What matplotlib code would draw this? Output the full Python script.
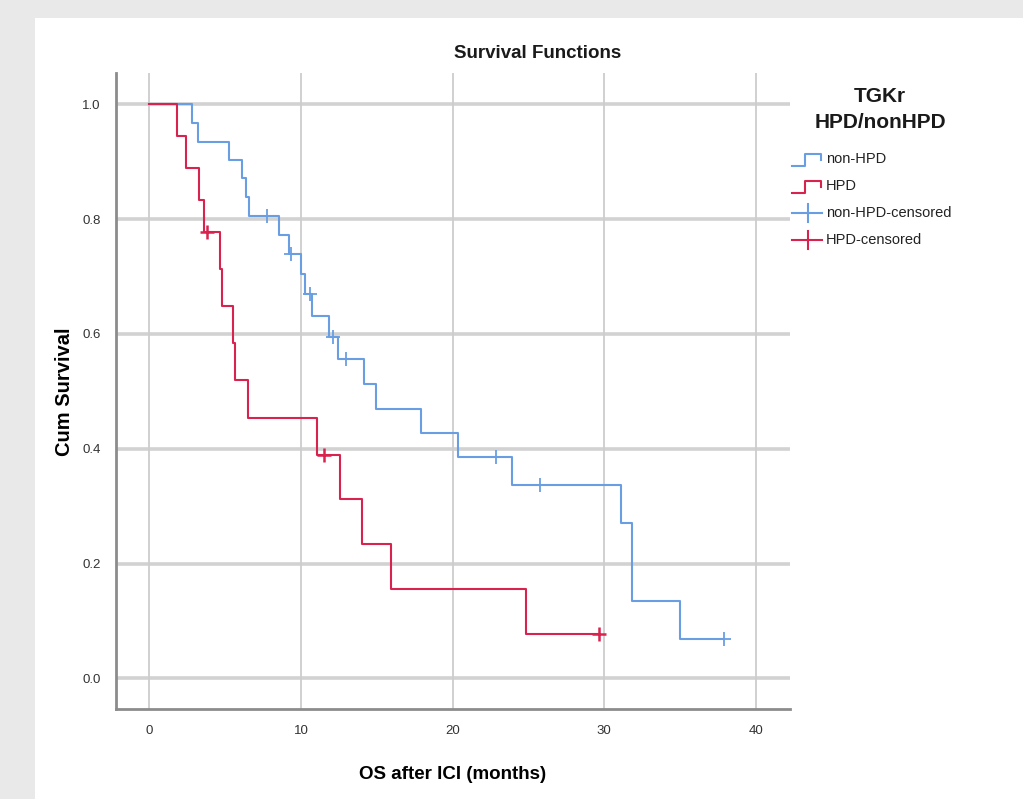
import matplotlib
matplotlib.use("Agg")
import matplotlib.pyplot as plt
from matplotlib.lines import Line2D
from matplotlib.patches import Rectangle

# ---------------- data ----------------
nonhpd_times = [2.80, 3.23, 5.26, 6.09, 6.36, 6.60, 8.56, 9.23, 10.01, 10.27, 10.71,
                11.87, 12.47, 14.16, 14.96, 17.90, 20.38, 23.90, 31.10, 31.86, 35.02]
nonhpd_surv = [1.0, 0.968, 0.935, 0.903, 0.871, 0.839, 0.806, 0.773, 0.739, 0.704, 0.669,
               0.632, 0.595, 0.556, 0.513, 0.470, 0.427, 0.385, 0.337, 0.270, 0.135, 0.068]
nonhpd_cens_t = [7.74, 9.35, 10.60, 12.14, 12.95, 22.87, 25.78, 37.90]
nonhpd_cens_s = [0.806, 0.739, 0.669, 0.595, 0.556, 0.385, 0.337, 0.068]

hpd_times = [1.81, 2.42, 3.30, 3.61, 4.66, 4.82, 5.54, 5.65, 6.53, 11.04, 12.58,
             14.05, 15.92, 24.83]
hpd_surv = [1.0, 0.944, 0.889, 0.833, 0.778, 0.713, 0.649, 0.584, 0.520, 0.454, 0.389,
            0.312, 0.234, 0.156, 0.078]
hpd_cens_t = [3.79, 11.52, 29.68]
hpd_cens_s = [0.778, 0.389, 0.078]

x_ticks = [0, 10, 20, 30, 40]
y_ticks = [0.0, 0.2, 0.4, 0.6, 0.8, 1.0]
y_tick_labels = ["0.0", "0.2", "0.4", "0.6", "0.8", "1.0"]
legend_labels = ["non-HPD", "HPD", "non-HPD-censored", "HPD-censored"]

BLUE = "#6a9ee3"
RED = "#d8234f"
FONT = ["Liberation Sans Narrow", "Liberation Sans", "DejaVu Sans"]
plt.rcParams["font.family"] = FONT

W, H = 1023, 799
fig = plt.figure(figsize=(W / 100, H / 100), dpi=100)
fig.patch.set_facecolor("#e9e9e9")
fig.patches.append(Rectangle((35 / W, 0), 1 - 35 / W, 1 - 18 / H,
                             transform=fig.transFigure, facecolor="white",
                             edgecolor="none", zorder=-10))

ax = fig.add_axes([116 / W, 1 - 709.3 / H, (790 - 116) / W, (709.3 - 73.3) / H])
ax.set_zorder(5)
ax.set_facecolor("white")
ax.set_xlim(-2.2, 42.26)
ax.set_ylim(-0.054, 1.054)

for yt in y_ticks:
    ax.axhline(yt, color="#d2d2d2", lw=2.6, zorder=1)
for xt in x_ticks:
    ax.axvline(xt, color="#cdcdcd", lw=1.3, zorder=1)

ax.set_xticks(x_ticks)
ax.set_yticks(y_ticks)
ax.set_yticklabels(y_tick_labels)
ax.tick_params(length=0, labelsize=9.5, colors="#333333", pad=11)
for s in ["top", "right"]:
    ax.spines[s].set_visible(False)
for s in ["left", "bottom"]:
    ax.spines[s].set_color("#8c8c8c")
    ax.spines[s].set_linewidth(2.0)

# step curves
bx = [0.0] + nonhpd_times + [nonhpd_cens_t[-1]]
by = nonhpd_surv + [nonhpd_surv[-1]]
ax.step(bx, by, where="post", color=BLUE, lw=1.5, zorder=3)
rx = [0.0] + hpd_times + [hpd_cens_t[-1]]
ry = hpd_surv + [hpd_surv[-1]]
ax.step(rx, ry, where="post", color=RED, lw=1.5, zorder=3)

ax.plot(nonhpd_cens_t, nonhpd_cens_s, ls="none", marker="+", ms=10, mew=1.3,
        color=BLUE, zorder=4)
ax.plot(hpd_cens_t, hpd_cens_s, ls="none", marker="+", ms=10, mew=1.8,
        color=RED, zorder=4)

ax.set_xlabel("OS after ICI (months)", fontsize=13.5, fontweight="bold")
ax.xaxis.set_label_coords(0.5, -0.089)
ax.set_ylabel("Cum Survival", fontsize=14.5, fontweight="bold")
ax.yaxis.set_label_coords(-0.062, 0.5)

fig.text(538 / W, 1 - 53 / H, "Survival Functions", fontsize=13.5, fontweight="bold",
         ha="center", va="center", color="#1a1a1a")

# legend (manual)
fig.text(880 / W, 1 - 97 / H, "TGKr", fontsize=15, fontweight="bold",
         ha="center", va="center", color="#1a1a1a")
fig.text(880 / W, 1 - 122 / H, "HPD/nonHPD", fontsize=15, fontweight="bold",
         ha="center", va="center", color="#1a1a1a")

def px(x, y):
    return x / W, 1 - y / H

entry_y = [159, 186, 213, 240]
colors = [BLUE, RED, BLUE, RED]
for i, (lab, yc, c) in enumerate(zip(legend_labels, entry_y, colors)):
    if i < 2:
        xs = [792, 805, 805, 821, 821]
        ys = [yc + 7, yc + 7, yc - 5, yc - 5, yc + 1]
        p = [px(a, b) for a, b in zip(xs, ys)]
        fig.add_artist(Line2D([q[0] for q in p], [q[1] for q in p], color=c, lw=1.5,
                              transform=fig.transFigure))
    else:
        p1, p2 = px(792, yc), px(822, yc)
        fig.add_artist(Line2D([p1[0], p2[0]], [p1[1], p2[1]], color=c, lw=1.5,
                              transform=fig.transFigure))
        q1, q2 = px(808, yc - 9), px(808, yc + 9)
        fig.add_artist(Line2D([q1[0], q2[0]], [q1[1], q2[1]], color=c, lw=1.5,
                              transform=fig.transFigure))
    fig.text(826 / W, 1 - yc / H, lab, fontsize=10.5, ha="left", va="center",
             color="#222222")

fig.savefig("out.png", dpi=100, facecolor=fig.get_facecolor())
